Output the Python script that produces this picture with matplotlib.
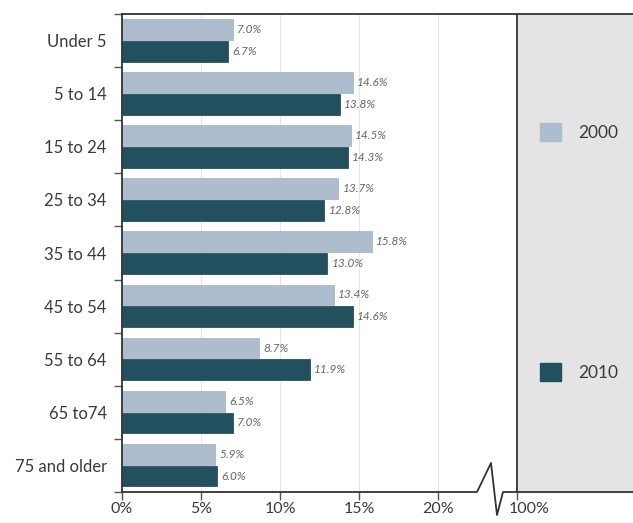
import numpy as np
import matplotlib
matplotlib.use("Agg")
import matplotlib.pyplot as plt
from matplotlib.patches import Patch
import matplotlib.transforms as mtransforms

plt.rcParams['font.family'] = ['Lato', 'DejaVu Sans']

# ===== data =====
age_groups = ["Under 5", "5 to 14", "15 to 24", "25 to 34", "35 to 44",
              "45 to 54", "55 to 64", "65 to74", "75 and older"]
share_2000 = [7.0, 14.6, 14.5, 13.7, 15.8, 13.4, 8.7, 6.5, 5.9]
share_2010 = [6.7, 13.8, 14.3, 12.8, 13.0, 14.6, 11.9, 7.0, 6.0]
x_ticks = [0, 5, 10, 15, 20, 25]
x_tick_labels = ["0%", "5%", "10%", "15%", "20%", "100%"]

light = "#aebdcd"
dark = "#22505f"
text_col = "#3a3a3a"

# ===== figure =====
fig = plt.figure(figsize=(6.33, 5.23), dpi=100)
ax = fig.add_axes([122 / 633, 31 / 523, 511 / 633, 478 / 523])

x_max = 511 / 15.8
y = np.arange(len(age_groups))
h = 0.39

ax.axvspan(25, x_max, color="#e4e4e4", zorder=0)
ax.axvline(25, color="#333333", lw=1.3, zorder=3)
for gx in [5, 10, 15, 20]:
    ax.axvline(gx, color="#e6e6e6", lw=0.8, zorder=0)

ax.barh(y - 0.21, share_2000, height=h, color=light, edgecolor="#9fb0c2",
        lw=0.5, zorder=2, label="2000")
ax.barh(y + 0.2, share_2010, height=h, color=dark, edgecolor="#1a3f4c",
        lw=0.5, zorder=2, label="2010")

for i in range(len(age_groups)):
    ax.annotate(f"{share_2000[i]:.1f}%", (share_2000[i], y[i] - 0.21),
                xytext=(3, 0), textcoords="offset points", va="center",
                ha="left", fontsize=8.5, style="italic", color="#666666")
    ax.annotate(f"{share_2010[i]:.1f}%", (share_2010[i], y[i] + 0.2),
                xytext=(3, 0), textcoords="offset points", va="center",
                ha="left", fontsize=8.5, style="italic", color="#666666")

ax.set_xlim(0, x_max)
ax.set_ylim(len(age_groups) - 0.5, -0.5)

# y ticks: labels at centres, tick marks between groups
ax.set_yticks(y)
ax.set_yticklabels(age_groups, fontsize=12, color=text_col)
ax.tick_params(axis="y", which="major", length=0, pad=11)
ax.set_yticks(np.arange(-0.5, len(age_groups) + 0.5, 1), minor=True)
ax.tick_params(axis="y", which="minor", length=6, width=1, color="#555555")

ax.set_xticks(x_ticks)
ax.set_xticklabels(x_tick_labels, fontsize=11.5, color=text_col)
ax.tick_params(axis="x", length=6, width=1, color="#555555", pad=1.5)
# "100%" sits a little right of its line
lab100 = ax.get_xticklabels()[-1]
lab100.set_transform(lab100.get_transform() +
                     mtransforms.ScaledTranslation(12 / 100, 0, fig.dpi_scale_trans))

for s in ["bottom", "right"]:
    ax.spines[s].set_visible(False)
ax.spines["left"].set_linewidth(1.3)
ax.spines["left"].set_color("#333333")
ax.spines["top"].set_linewidth(1.3)
ax.spines["top"].set_color("#333333")

# bottom line with axis break
trans = mtransforms.blended_transform_factory(ax.transData, ax.transAxes)
bx0 = (477 - 122) / 15.8
bx1 = (491 - 122) / 15.8
bx2 = (497 - 122) / 15.8
bx3 = (503 - 122) / 15.8
ax.plot([0, bx0, bx1, bx2, bx3, x_max],
        [0, 0, 29 / 478, -23 / 478, 0, 0],
        transform=trans, color="#333333", lw=1.3, clip_on=False, zorder=4)

handles = [Patch(facecolor=light, edgecolor=light), Patch(facecolor=dark, edgecolor=dark)]
ax.legend(handles, ["2000", "2010"], loc="upper left",
          bbox_to_anchor=(540 / 633, 1 - 123 / 523), bbox_transform=fig.transFigure,
          frameon=False, fontsize=12.5, handlelength=1.2, handleheight=1.2,
          handletextpad=1.0, labelspacing=12.8, borderpad=0, borderaxespad=0,
          labelcolor=text_col)

fig.savefig("out.png", dpi=100)
